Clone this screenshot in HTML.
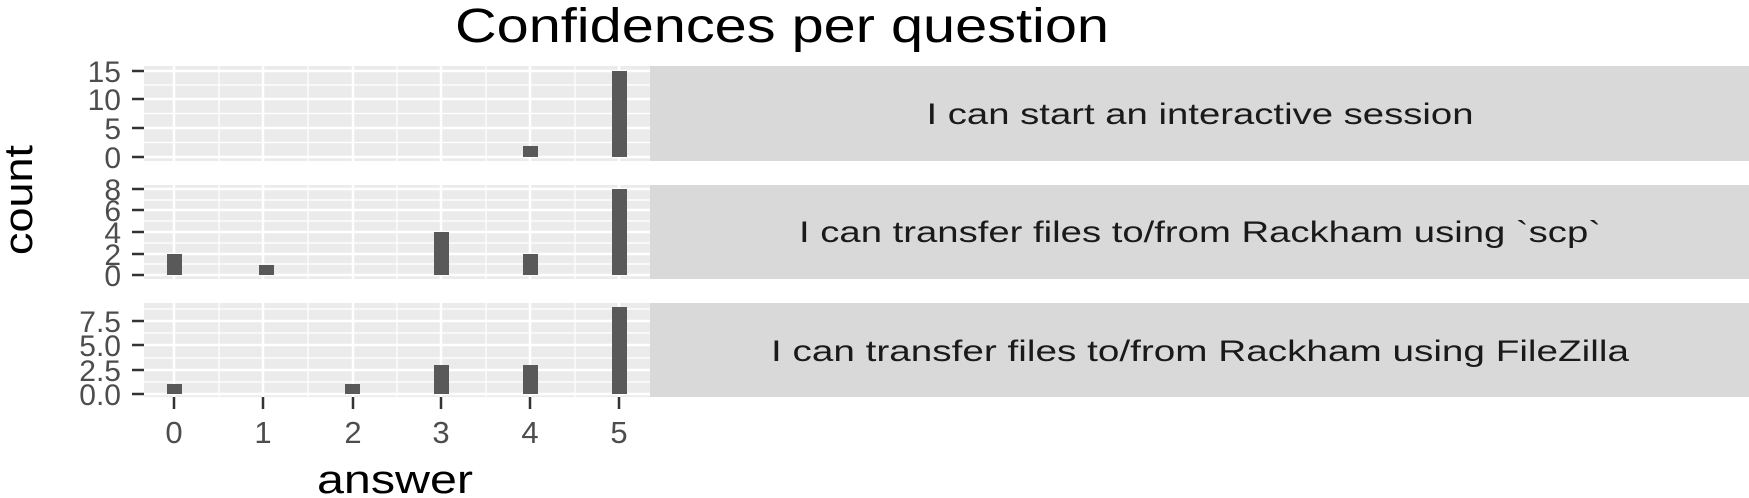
<!DOCTYPE html>
<html><head><meta charset="utf-8"><style>html,body{margin:0;padding:0;background:#fff}svg{display:block}</style></head>
<body>
<svg width="1749" height="498" viewBox="0 0 1749 498" xmlns="http://www.w3.org/2000/svg" font-family="Liberation Sans, DejaVu Sans, sans-serif">
<rect width="1749" height="498" fill="#fff"/>
<text x="455" y="42" font-size="48" textLength="654" lengthAdjust="spacingAndGlyphs" fill="#000">Confidences per question</text>

<!-- panel 1 -->
<rect x="144" y="66" width="506" height="95" fill="#ebebeb"/>
<g stroke="#fff">
<g stroke-width="1.2"><line x1="144" x2="650" y1="142.5" y2="142.5"/><line x1="144" x2="650" y1="113.5" y2="113.5"/><line x1="144" x2="650" y1="85" y2="85"/>
<line x1="219" x2="219" y1="66" y2="161"/><line x1="308" x2="308" y1="66" y2="161"/><line x1="397" x2="397" y1="66" y2="161"/><line x1="486" x2="486" y1="66" y2="161"/><line x1="575" x2="575" y1="66" y2="161"/></g>
<g stroke-width="2.5"><line x1="144" x2="650" y1="157" y2="157"/><line x1="144" x2="650" y1="128" y2="128"/><line x1="144" x2="650" y1="99" y2="99"/><line x1="144" x2="650" y1="71" y2="71"/>
<line x1="174" x2="174" y1="66" y2="161"/><line x1="263" x2="263" y1="66" y2="161"/><line x1="353" x2="353" y1="66" y2="161"/><line x1="441" x2="441" y1="66" y2="161"/><line x1="530" x2="530" y1="66" y2="161"/><line x1="619" x2="619" y1="66" y2="161"/></g>
</g>
<g fill="#595959"><rect x="523" y="146" width="15" height="11"/><rect x="612" y="71" width="15" height="86"/></g>
<rect x="650" y="66" width="1099" height="95" fill="#d9d9d9"/>
<text x="1200" y="124" font-size="30" text-anchor="middle" textLength="547" lengthAdjust="spacingAndGlyphs" fill="#1a1a1a">I can start an interactive session</text>
<g stroke="#333" stroke-width="2.5"><line x1="132" x2="144" y1="157" y2="157"/><line x1="132" x2="144" y1="128" y2="128"/><line x1="132" x2="144" y1="99" y2="99"/><line x1="132" x2="144" y1="71" y2="71"/></g>
<g font-size="30" fill="#4d4d4d" text-anchor="end"><text x="121" y="168">0</text><text x="121" y="139">5</text><text x="121" y="110">10</text><text x="121" y="82">15</text></g>

<!-- panel 2 -->
<rect x="144" y="185" width="506" height="94" fill="#ebebeb"/>
<g stroke="#fff">
<g stroke-width="1.2"><line x1="144" x2="650" y1="264" y2="264"/><line x1="144" x2="650" y1="243" y2="243"/><line x1="144" x2="650" y1="221" y2="221"/><line x1="144" x2="650" y1="200" y2="200"/>
<line x1="219" x2="219" y1="185" y2="279"/><line x1="308" x2="308" y1="185" y2="279"/><line x1="397" x2="397" y1="185" y2="279"/><line x1="486" x2="486" y1="185" y2="279"/><line x1="575" x2="575" y1="185" y2="279"/></g>
<g stroke-width="2.5"><line x1="144" x2="650" y1="275" y2="275"/><line x1="144" x2="650" y1="254" y2="254"/><line x1="144" x2="650" y1="232" y2="232"/><line x1="144" x2="650" y1="210" y2="210"/><line x1="144" x2="650" y1="189" y2="189"/>
<line x1="174" x2="174" y1="185" y2="279"/><line x1="263" x2="263" y1="185" y2="279"/><line x1="353" x2="353" y1="185" y2="279"/><line x1="441" x2="441" y1="185" y2="279"/><line x1="530" x2="530" y1="185" y2="279"/><line x1="619" x2="619" y1="185" y2="279"/></g>
</g>
<g fill="#595959"><rect x="167" y="254" width="15" height="21"/><rect x="259" y="265" width="15" height="10"/><rect x="434" y="232" width="15" height="43"/><rect x="523" y="254" width="15" height="21"/><rect x="612" y="189" width="15" height="86"/></g>
<rect x="650" y="185" width="1099" height="94" fill="#d9d9d9"/>
<text x="1200" y="242" font-size="30" text-anchor="middle" textLength="802" lengthAdjust="spacingAndGlyphs" fill="#1a1a1a">I can transfer files to/from Rackham using `scp`</text>
<g stroke="#333" stroke-width="2.5"><line x1="132" x2="144" y1="275" y2="275"/><line x1="132" x2="144" y1="254" y2="254"/><line x1="132" x2="144" y1="232" y2="232"/><line x1="132" x2="144" y1="210" y2="210"/><line x1="132" x2="144" y1="189" y2="189"/></g>
<g font-size="30" fill="#4d4d4d" text-anchor="end"><text x="121" y="286">0</text><text x="121" y="265">2</text><text x="121" y="243">4</text><text x="121" y="221">6</text><text x="121" y="200">8</text></g>

<!-- panel 3 -->
<rect x="144" y="303" width="506" height="94" fill="#ebebeb"/>
<g stroke="#fff">
<g stroke-width="1.2"><line x1="144" x2="650" y1="382" y2="382"/><line x1="144" x2="650" y1="358" y2="358"/><line x1="144" x2="650" y1="333" y2="333"/><line x1="144" x2="650" y1="309" y2="309"/>
<line x1="219" x2="219" y1="303" y2="397"/><line x1="308" x2="308" y1="303" y2="397"/><line x1="397" x2="397" y1="303" y2="397"/><line x1="486" x2="486" y1="303" y2="397"/><line x1="575" x2="575" y1="303" y2="397"/></g>
<g stroke-width="2.5"><line x1="144" x2="650" y1="394" y2="394"/><line x1="144" x2="650" y1="370" y2="370"/><line x1="144" x2="650" y1="345" y2="345"/><line x1="144" x2="650" y1="321" y2="321"/>
<line x1="174" x2="174" y1="303" y2="397"/><line x1="263" x2="263" y1="303" y2="397"/><line x1="353" x2="353" y1="303" y2="397"/><line x1="441" x2="441" y1="303" y2="397"/><line x1="530" x2="530" y1="303" y2="397"/><line x1="619" x2="619" y1="303" y2="397"/></g>
</g>
<g fill="#595959"><rect x="167" y="384" width="15" height="10"/><rect x="345" y="384" width="15" height="10"/><rect x="434" y="365" width="15" height="29"/><rect x="523" y="365" width="15" height="29"/><rect x="612" y="307" width="15" height="87"/></g>
<rect x="650" y="303" width="1099" height="94" fill="#d9d9d9"/>
<text x="1200" y="361" font-size="30" text-anchor="middle" textLength="858" lengthAdjust="spacingAndGlyphs" fill="#1a1a1a">I can transfer files to/from Rackham using FileZilla</text>
<g stroke="#333" stroke-width="2.5"><line x1="132" x2="144" y1="394" y2="394"/><line x1="132" x2="144" y1="370" y2="370"/><line x1="132" x2="144" y1="345" y2="345"/><line x1="132" x2="144" y1="321" y2="321"/></g>
<g font-size="30" fill="#4d4d4d" text-anchor="end"><text x="121" y="405">0.0</text><text x="121" y="381">2.5</text><text x="121" y="356">5.0</text><text x="121" y="332">7.5</text></g>

<!-- x axis -->
<g stroke="#333" stroke-width="2.5"><line x1="174" x2="174" y1="397" y2="409"/><line x1="263" x2="263" y1="397" y2="409"/><line x1="353" x2="353" y1="397" y2="409"/><line x1="441" x2="441" y1="397" y2="409"/><line x1="530" x2="530" y1="397" y2="409"/><line x1="619" x2="619" y1="397" y2="409"/></g>
<g font-size="31" fill="#4d4d4d" text-anchor="middle"><text x="174" y="443">0</text><text x="263" y="443">1</text><text x="353" y="443">2</text><text x="441" y="443">3</text><text x="530" y="443">4</text><text x="619" y="443">5</text></g>
<text x="395" y="493" font-size="40" text-anchor="middle" textLength="156" lengthAdjust="spacingAndGlyphs" fill="#000">answer</text>
<text transform="translate(32,200) rotate(-90)" font-size="40" text-anchor="middle" textLength="110" lengthAdjust="spacingAndGlyphs" fill="#000">count</text>
</svg>
</body></html>
